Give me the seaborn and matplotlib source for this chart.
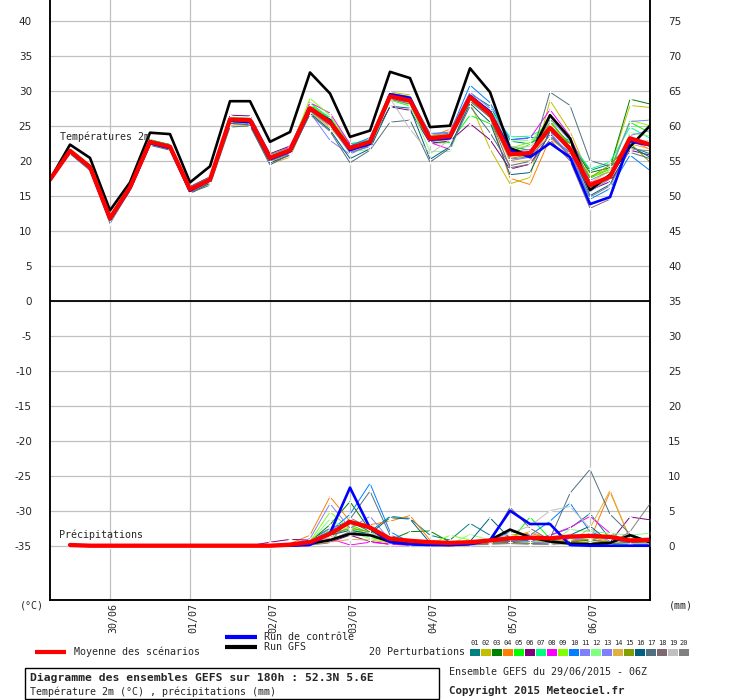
import matplotlib
matplotlib.use("Agg")
import matplotlib.pyplot as plt
import matplotlib.transforms as mtrans
from matplotlib.patches import Rectangle
from matplotlib.lines import Line2D
import pandas as pd
import seaborn as sns

# ---------------- data ----------------
hours = [6 * i for i in range(31)]          # 29/06 06Z .. 06/07 18Z
precip_hours = hours[1:]
date_hours = [18, 42, 66, 90, 114, 138, 162]
date_labels = ["30/06", "01/07", "02/07", "03/07", "04/07", "05/07", "06/07"]
left_ticks = list(range(-35, 45, 5))
right_ticks = list(range(0, 80, 5))

temp_mean = [17.3, 21.4, 19.1, 11.8, 16.2, 22.7, 22.0, 15.9, 17.3, 25.9, 25.8, 20.4, 21.5, 27.5, 25.5, 21.8,
             22.7, 29.2, 28.6, 23.2, 23.5, 29.1, 26.7, 20.9, 21.1, 24.7, 21.7, 16.5, 17.7, 23.2, 22.3]
temp_gfs = [17.3, 22.3, 20.4, 12.9, 16.9, 24.0, 23.8, 16.9, 19.2, 28.5, 28.5, 22.7, 24.1, 32.6, 29.6, 23.4,
            24.3, 32.7, 31.8, 24.8, 25.0, 33.2, 29.8, 21.8, 20.7, 26.5, 23.2, 15.8, 18.0, 22.0, 25.0]
temp_ctrl = [17.3, 21.3, 19.0, 11.6, 16.0, 22.5, 21.8, 15.7, 17.2, 25.7, 25.5, 20.2, 21.3, 27.3, 25.8, 21.5,
             22.4, 29.5, 29.0, 23.0, 23.2, 29.3, 27.0, 21.5, 20.5, 22.5, 20.5, 13.8, 14.8, 22.8, 22.2]

t01 = [17.3, 21.6, 19.3, 11.9, 16.4, 22.9, 22.2, 16.0, 17.6, 26.2, 26.0, 20.8, 21.9, 27.9, 25.9, 21.6, 22.9, 29.5, 28.9, 23.6, 23.9, 29.6, 27.8, 22.8, 22.4, 24.3, 22.8, 18.6, 19.5, 22.0, 21.0]
t02 = [17.3, 21.3, 19.0, 11.7, 16.0, 22.6, 21.8, 15.7, 17.0, 25.5, 25.4, 19.9, 21.0, 27.9, 25.8, 22.0, 23.0, 29.8, 29.4, 22.9, 23.0, 28.3, 21.7, 16.7, 17.6, 28.6, 24.2, 17.6, 19.0, 27.9, 27.6]
t03 = [17.3, 21.5, 19.2, 11.9, 16.3, 22.8, 22.1, 16.0, 17.4, 26.1, 25.9, 20.6, 21.6, 27.6, 25.2, 21.5, 22.5, 29.0, 28.4, 23.0, 23.8, 29.4, 27.0, 22.0, 21.5, 24.0, 22.5, 18.3, 19.0, 28.8, 28.1]
t04 = [17.3, 21.2, 18.9, 11.6, 16.0, 22.4, 21.7, 15.6, 16.9, 25.3, 25.1, 19.7, 20.8, 27.0, 25.0, 21.4, 22.6, 29.3, 28.8, 23.4, 24.5, 29.0, 26.2, 17.5, 16.6, 23.2, 21.0, 16.0, 17.4, 23.0, 21.6]
t05 = [17.3, 21.5, 19.3, 12.0, 16.4, 23.0, 22.3, 16.1, 17.5, 26.0, 26.0, 20.8, 21.9, 28.3, 26.0, 22.4, 22.9, 28.7, 27.8, 22.5, 22.6, 26.5, 25.3, 21.2, 22.3, 25.8, 22.0, 17.5, 18.8, 25.5, 24.0]
t06 = [17.3, 21.4, 19.1, 11.8, 16.2, 22.9, 22.3, 16.3, 17.7, 26.5, 26.4, 21.0, 22.1, 27.3, 25.3, 21.7, 22.5, 27.7, 27.2, 22.5, 22.8, 25.3, 23.0, 18.8, 19.5, 23.8, 20.6, 15.8, 17.0, 21.5, 20.8]
t07 = [17.3, 21.7, 19.4, 12.1, 16.5, 23.0, 22.3, 16.2, 17.6, 26.1, 26.0, 20.6, 21.7, 28.0, 26.2, 22.4, 23.0, 29.3, 28.7, 23.5, 23.8, 29.0, 27.3, 23.4, 23.5, 25.0, 22.6, 18.8, 19.8, 24.8, 23.2]
t08 = [17.3, 21.4, 19.1, 11.8, 16.3, 22.6, 21.9, 15.9, 17.3, 26.0, 25.9, 20.7, 21.9, 28.3, 26.8, 22.4, 22.0, 28.9, 28.3, 22.6, 21.6, 28.8, 27.0, 23.0, 23.2, 27.3, 23.5, 17.0, 17.4, 22.6, 22.1]
t09 = [17.3, 21.3, 19.0, 11.7, 16.1, 22.8, 22.1, 15.8, 17.1, 25.8, 25.7, 20.3, 21.4, 28.9, 26.5, 21.9, 22.4, 29.4, 28.2, 23.1, 23.3, 28.4, 26.4, 21.8, 22.6, 26.0, 21.5, 17.8, 18.3, 25.8, 25.0]
t10 = [17.3, 21.5, 19.2, 11.9, 16.2, 22.7, 22.0, 15.6, 17.2, 25.8, 25.6, 20.1, 21.3, 27.3, 25.7, 22.1, 23.3, 29.6, 29.1, 23.9, 24.0, 30.8, 28.3, 23.0, 23.3, 23.4, 21.2, 14.5, 16.0, 20.8, 18.6]
t11 = [17.3, 21.3, 19.0, 11.6, 16.0, 22.5, 21.8, 15.7, 17.0, 25.6, 25.5, 20.0, 21.2, 26.9, 22.9, 20.9, 22.3, 29.1, 28.9, 23.8, 24.1, 29.8, 27.5, 20.0, 20.5, 26.0, 22.9, 17.2, 18.5, 25.6, 25.8]
t12 = [17.3, 21.6, 19.3, 12.0, 16.4, 22.9, 22.2, 16.0, 17.5, 26.2, 26.1, 20.7, 21.8, 27.8, 25.6, 21.3, 21.6, 28.7, 28.0, 21.3, 21.3, 28.7, 27.0, 22.8, 22.9, 24.7, 22.0, 16.2, 17.3, 24.0, 23.5]
t13 = [17.3, 21.2, 18.9, 11.7, 16.1, 22.5, 21.8, 15.8, 17.1, 25.6, 25.4, 20.0, 21.0, 27.2, 25.0, 21.2, 22.0, 29.0, 28.6, 23.1, 23.4, 29.2, 26.9, 21.3, 21.6, 24.1, 20.7, 15.6, 17.4, 23.6, 24.3]
t14 = [17.3, 21.1, 18.8, 11.5, 15.9, 22.3, 21.6, 15.5, 16.7, 25.0, 24.9, 19.5, 20.5, 27.0, 24.7, 21.6, 22.7, 29.6, 29.2, 23.6, 23.8, 29.3, 26.6, 19.8, 20.0, 24.5, 21.8, 16.8, 18.6, 22.4, 21.7]
t15 = [17.3, 21.4, 19.1, 11.8, 16.2, 22.7, 22.1, 16.0, 17.3, 26.0, 25.8, 20.5, 21.5, 27.5, 25.4, 21.5, 22.6, 29.4, 28.8, 23.3, 23.6, 28.9, 26.1, 20.3, 20.9, 25.5, 22.4, 17.6, 19.4, 22.5, 19.8]
t16 = [17.3, 21.3, 19.0, 11.5, 15.8, 22.4, 21.7, 15.3, 16.8, 25.3, 25.2, 19.7, 20.8, 26.8, 24.4, 20.3, 21.7, 27.8, 27.5, 20.2, 22.0, 28.2, 25.5, 18.0, 18.3, 24.2, 22.0, 15.0, 16.6, 22.1, 20.5]
t17 = [17.3, 21.0, 18.6, 11.3, 15.7, 22.2, 21.5, 15.4, 16.5, 24.8, 25.0, 19.4, 20.9, 26.6, 24.2, 19.7, 21.5, 25.5, 25.8, 19.8, 21.8, 27.8, 24.0, 19.3, 19.9, 29.8, 27.9, 20.0, 19.2, 21.2, 20.3]
t18 = [17.3, 21.2, 18.9, 11.6, 16.0, 22.5, 21.9, 15.9, 17.2, 25.7, 25.6, 20.2, 21.2, 27.2, 25.3, 21.6, 22.2, 28.8, 28.1, 22.7, 23.1, 28.5, 26.2, 19.0, 19.5, 23.0, 20.0, 13.2, 14.5, 22.7, 22.5]
t19 = [17.3, 21.5, 19.2, 11.9, 16.3, 22.8, 22.0, 15.9, 17.4, 26.0, 25.9, 20.3, 21.6, 27.4, 25.6, 21.8, 22.5, 28.9, 24.5, 21.0, 23.0, 29.0, 27.2, 21.9, 22.0, 24.4, 21.3, 16.5, 17.8, 22.5, 22.9]
t20 = [17.3, 21.1, 18.7, 11.0, 15.8, 22.4, 21.7, 15.6, 17.0, 25.6, 25.4, 20.0, 21.1, 27.1, 25.1, 21.1, 22.1, 28.9, 28.4, 22.9, 23.1, 28.6, 26.3, 20.2, 20.6, 23.6, 20.6, 14.8, 16.4, 21.7, 21.4]

precip_mean = [0.1, 0, 0, 0, 0, 0, 0, 0, 0, 0, 0, 0.15, 0.5, 1.7, 3.4, 2.6, 1.0, 0.7, 0.5, 0.4,
               0.5, 0.75, 1.05, 1.15, 1.05, 1.3, 1.4, 1.25, 0.75, 0.85]
precip_ctrl = [0.1, 0, 0, 0, 0, 0, 0, 0, 0, 0, 0, 0, 0.1, 1.8, 8.3, 2.5, 0.5, 0.2, 0.1, 0.1,
               0.2, 0.8, 5.0, 3.1, 3.1, 0.1, 0, 0, 0, 0]
precip_gfs = [0, 0, 0, 0, 0, 0, 0, 0, 0, 0, 0, 0, 0.3, 0.8, 1.7, 1.5, 0.6, 0.3, 0.2, 0.1,
              0.3, 0.8, 2.3, 1.2, 0.6, 0.3, 0.2, 0.4, 1.5, 0.5]

p01 = [0, 0, 0, 0, 0, 0, 0, 0, 0, 0, 0, 0.2, 0.8, 2.5, 3.5, 2.0, 4.2, 3.9, 1.5, 0.8, 3.2, 1.5, 0.5, 0.8, 1.5, 2.5, 4.6, 1.0, 0.5, 0.3]
p02 = [0, 0, 0, 0, 0, 0, 0, 0, 0, 0, 0, 0, 0.3, 1.2, 2.8, 1.5, 0.3, 0.2, 0.1, 0.1, 0.3, 0.5, 0.8, 1.5, 0.5, 0.8, 1.2, 0.6, 0.3, 0.5]
p03 = [0, 0, 0, 0, 0, 0, 0, 0, 0, 0, 0, 0.1, 0.6, 3.0, 6.3, 2.2, 0.8, 2.0, 2.1, 0.5, 0.2, 0.3, 0.5, 0.8, 0.6, 0.3, 0.5, 0.4, 0.2, 0.2]
p04 = [0, 0, 0, 0, 0, 0, 0, 0, 0, 0, 0, 0.3, 1.5, 7.0, 3.5, 3.0, 3.5, 4.3, 0.8, 0.3, 0.2, 0.5, 1.5, 1.8, 1.0, 0.5, 0.8, 7.7, 1.0, 0.5]
p05 = [0, 0, 0, 0, 0, 0, 0, 0, 0, 0, 0, 0, 0.4, 2.2, 3.0, 1.8, 0.3, 0.2, 0.1, 0.2, 0.5, 0.8, 0.5, 4.1, 1.0, 0.5, 0.3, 0.2, 0.1, 0.3]
p06 = [0, 0, 0, 0, 0, 0, 0, 0, 0, 0, 0.5, 0.9, 0.8, 0.5, 1.5, 0.6, 0.2, 0.1, 0.1, 0.1, 0.2, 0.3, 0.5, 0.3, 0.4, 0.6, 0.8, 0.5, 4.1, 3.7]
p07 = [0, 0, 0, 0, 0, 0, 0, 0, 0, 0, 0, 0.1, 0.5, 1.8, 2.4, 1.6, 0.5, 0.3, 0.2, 0.3, 0.4, 0.6, 1.0, 1.2, 0.8, 0.5, 0.3, 0.2, 0.2, 0.4]
p08 = [0, 0, 0, 0, 0, 0, 0, 0, 0, 0, 0, 0, 0.2, 1.0, 0.1, 0.5, 0.2, 0.1, 0.1, 0.2, 0.3, 0.5, 0.8, 0.6, 1.5, 2.6, 4.2, 1.8, 0.5, 0.3]
p09 = [0, 0, 0, 0, 0, 0, 0, 0, 0, 0, 0, 0.1, 0.6, 4.8, 2.5, 1.2, 0.5, 0.3, 0.2, 1.5, 0.8, 0.5, 0.6, 0.9, 0.5, 0.4, 0.6, 1.8, 0.3, 0.2]
p10 = [0, 0, 0, 0, 0, 0, 0, 0, 0, 0, 0, 0.2, 0.5, 2.0, 4.5, 8.9, 2.0, 0.5, 0.3, 0.2, 0.4, 0.6, 2.0, 1.5, 3.5, 6.1, 2.0, 1.0, 0.3, 0.2]
p11 = [0, 0, 0, 0, 0, 0, 0, 0, 0, 0, 0, 0.2, 1.0, 6.0, 2.5, 4.2, 0.8, 0.4, 0.2, 0.2, 0.3, 0.5, 0.7, 0.6, 0.4, 0.5, 1.8, 0.6, 0.3, 0.2]
p12 = [0, 0, 0, 0, 0, 0, 0, 0, 0, 0, 0, 0, 0.5, 3.8, 2.0, 1.0, 0.6, 0.3, 0.2, 0.2, 1.6, 0.8, 0.6, 0.5, 0.4, 2.3, 2.0, 1.8, 1.5, 1.8]
p13 = [0, 0, 0, 0, 0, 0, 0, 0, 0, 0, 0, 0.1, 0.4, 2.5, 3.2, 2.8, 0.7, 0.3, 0.2, 0.3, 0.3, 0.4, 0.6, 0.5, 0.4, 1.0, 0.8, 1.5, 0.4, 0.3]
p14 = [0, 0, 0, 0, 0, 0, 0, 0, 0, 0, 0, 0, 0.2, 0.5, 0.9, 0.8, 0.4, 0.2, 0.1, 0.1, 0.2, 0.8, 1.2, 2.0, 1.0, 0.5, 2.5, 7.9, 1.0, 0.5]
p15 = [0, 0, 0, 0, 0, 0, 0, 0, 0, 0, 0, 0.1, 0.3, 1.5, 2.5, 2.0, 0.6, 0.3, 0.2, 0.2, 0.2, 0.3, 0.4, 0.3, 0.2, 0.6, 0.9, 0.5, 0.3, 0.7]
p16 = [0, 0, 0, 0, 0, 0, 0, 0, 0, 0, 0, 0.1, 0.4, 1.5, 2.2, 1.7, 4.0, 3.8, 0.4, 0.3, 0.6, 4.0, 1.0, 0.8, 1.2, 1.5, 2.8, 0.5, 0.4, 0.3]
p17 = [0, 0, 0, 0, 0, 0, 0, 0, 0, 0, 0, 0.1, 0.3, 1.5, 3.8, 7.8, 1.5, 0.6, 0.3, 0.2, 0.3, 0.5, 0.6, 0.8, 1.0, 7.5, 10.9, 4.5, 1.7, 0.5]
p18 = [0, 0, 0, 0, 0, 0, 0, 0, 0, 0, 0, 0, 0.2, 0.8, 2.0, 1.5, 0.5, 0.3, 0.2, 0.1, 0.2, 0.4, 5.5, 2.5, 0.8, 0.4, 0.3, 0.2, 0.8, 0.5]
p19 = [0, 0, 0, 0, 0, 0, 0, 0, 0, 0, 0, 0.1, 0.3, 1.2, 1.5, 1.8, 1.2, 0.8, 0.6, 0.4, 0.3, 0.5, 1.8, 2.8, 5.0, 5.6, 2.5, 0.5, 0.3, 0.3]
p20 = [0, 0, 0, 0, 0, 0, 0, 0, 0, 0, 0, 0, 0.1, 0.4, 4.0, 2.5, 0.6, 0.3, 0.1, 0.1, 0.1, 0.2, 0.3, 0.2, 0.2, 0.3, 0.5, 0.3, 2.0, 6.0]

member_ids = ["01", "02", "03", "04", "05", "06", "07", "08", "09", "10",
              "11", "12", "13", "14", "15", "16", "17", "18", "19", "20"]
member_colors = ["#008080", "#c0c000", "#008000", "#ff8000", "#00ff00", "#800080", "#00ff80", "#ff00ff",
                 "#80ff00", "#0080ff", "#8080ff", "#80ff80", "#7f7fff", "#e0b040", "#80a000", "#006080",
                 "#507080", "#806870", "#c0c0c0", "#808080"]
temp_members = [t01, t02, t03, t04, t05, t06, t07, t08, t09, t10,
                t11, t12, t13, t14, t15, t16, t17, t18, t19, t20]
precip_members = [p01, p02, p03, p04, p05, p06, p07, p08, p09, p10,
                  p11, p12, p13, p14, p15, p16, p17, p18, p19, p20]

# ---------------- tables ----------------
df_t = pd.DataFrame([(h, v, m) for m, vals in zip(member_ids, temp_members) for h, v in zip(hours, vals)],
                    columns=["hour", "value", "member"])
df_p = pd.DataFrame([(h, v, m) for m, vals in zip(member_ids, precip_members) for h, v in zip(precip_hours, vals)],
                    columns=["hour", "value", "member"])
palette = dict(zip(member_ids, member_colors))

# ---------------- style ----------------
sns.set_style("white")
plt.rcParams["font.family"] = ["DejaVu Sans Mono", "DejaVu Sans"]
plt.rcParams["axes.unicode_minus"] = False
MONO = "DejaVu Sans Mono"

W, H = 740, 700
fig = plt.figure(figsize=(W / 100, H / 100), dpi=100)
fig.patch.set_facecolor("white")


def fx(x):
    return x / W


def fy(y):
    return 1 - y / H


ax = fig.add_axes([fx(50), fy(600), 600 / W, 600 / H])
y_top = 40 + 20.7 / 7
y_bot = 40 - 579.3 / 7
ax.set_xlim(0, 180)
ax.set_ylim(y_bot, y_top)
ax.set_facecolor("white")

grid_c = "#c0c0c0"
for h in date_hours:
    ax.axvline(h, color=grid_c, lw=0.9, zorder=0)
for t in left_ticks:
    ax.axhline(t, color=grid_c, lw=0.9, zorder=0)
ax.axhline(0, color="black", lw=1.3, zorder=1)

# temperature members
sns.lineplot(data=df_t, x="hour", y="value", hue="member", palette=palette, estimator=None, sort=False,
             lw=0.7, marker="+", markersize=3, markeredgewidth=0.6, legend=False, ax=ax)
sns.lineplot(x=hours, y=temp_gfs, color="black", lw=1.9, estimator=None, ax=ax)
sns.lineplot(x=hours, y=temp_ctrl, color="#0000ff", lw=1.9, estimator=None, ax=ax)
sns.lineplot(x=hours, y=temp_mean, color="#ff0000", lw=3.1, estimator=None, ax=ax)

# precipitation on the right-hand scale
ax2 = ax.twinx()
ax2.set_ylim(y_bot + 35, y_top + 35)
sns.lineplot(data=df_p, x="hour", y="value", hue="member", palette=palette, estimator=None, sort=False,
             lw=0.7, marker="+", markersize=3, markeredgewidth=0.6, legend=False, ax=ax2)
sns.lineplot(x=precip_hours, y=precip_gfs, color="black", lw=1.9, estimator=None, ax=ax2)
sns.lineplot(x=precip_hours, y=precip_ctrl, color="#0000ff", lw=1.9, estimator=None, ax=ax2)
sns.lineplot(x=precip_hours, y=precip_mean, color="#ff0000", lw=3.1, estimator=None, ax=ax2)

# axes cosmetics
for a in (ax, ax2):
    a.set_xlabel("")
    a.set_ylabel("")
    a.spines["top"].set_visible(False)
    for s in ("left", "right", "bottom"):
        a.spines[s].set_color("black")
        a.spines[s].set_linewidth(1.1)
    a.grid(False)

ax.set_yticks(left_ticks)
ax.set_yticklabels([str(t) for t in left_ticks], fontsize=7.5, family="DejaVu Sans")
ax.tick_params(axis="y", length=0, pad=13)
ax2.set_yticks(right_ticks)
ax2.set_yticklabels([str(t) for t in right_ticks], fontsize=7.5, family="DejaVu Sans")
ax2.tick_params(axis="y", length=0, pad=13)
ax2.set_xlim(0, 180)

ax.set_xticks(date_hours)
ax.set_xticklabels(date_labels, rotation=90, fontsize=7.2, family=MONO, va="top", ha="center")
ax.tick_params(axis="x", length=0, pad=2)
off = mtrans.ScaledTranslation(3 / 100, 0, fig.dpi_scale_trans)
for lab in ax.get_xticklabels():
    lab.set_transform(lab.get_transform() + off)

ax.text(3.0, 23.4, "Températures 2m", fontsize=7.2, family=MONO, ha="left", va="center", zorder=10)
ax.text(2.7, -33.5, "Précipitations", fontsize=7.2, family=MONO, ha="left", va="center", zorder=10)

# ---------------- footer / legend ----------------
fig.text(fx(20), fy(606), "(°C)", fontsize=7.2, family=MONO, ha="left", va="center")
fig.text(fx(669), fy(606), "(mm)", fontsize=7.2, family=MONO, ha="left", va="center")

fig.add_artist(Line2D([fx(35), fx(66)], [fy(652), fy(652)], color="#ff0000", lw=3, solid_capstyle="butt"))
fig.text(fx(74), fy(652), "Moyenne des scénarios", fontsize=7.2, family=MONO, ha="left", va="center")
fig.add_artist(Line2D([fx(225), fx(257)], [fy(636.5), fy(636.5)], color="#0000ff", lw=3, solid_capstyle="butt"))
fig.text(fx(264), fy(636.5), "Run de contrôle", fontsize=7.2, family=MONO, ha="left", va="center")
fig.add_artist(Line2D([fx(225), fx(257)], [fy(646.5), fy(646.5)], color="black", lw=3, solid_capstyle="butt"))
fig.text(fx(264), fy(646.5), "Run GFS", fontsize=7.2, family=MONO, ha="left", va="center")
fig.text(fx(369), fy(652), "20 Perturbations", fontsize=7.2, family=MONO, ha="left", va="center")

for i, (mid, col) in enumerate(zip(member_ids, member_colors)):
    x0 = 470 + 11 * i
    fig.add_artist(Rectangle((fx(x0), fy(655.5)), 10 / W, 6.5 / H, facecolor=col, edgecolor="none",
                             transform=fig.transFigure))
    fig.text(fx(x0 + 5), fy(643), mid, fontsize=5, family=MONO, ha="center", va="center")

fig.add_artist(Rectangle((fx(25), fy(699.3)), (439 - 25) / W, (699.3 - 667.7) / H, fill=False,
                         edgecolor="black", lw=1, transform=fig.transFigure))
fig.text(fx(30), fy(677.5), "Diagramme des ensembles GEFS sur 180h : 52.3N 5.6E", fontsize=8.2,
         family=MONO, weight="bold", ha="left", va="center")
fig.text(fx(30), fy(691.5), "Température 2m (°C) , précipitations (mm)", fontsize=7.2,
         family=MONO, ha="left", va="center")
fig.text(fx(449), fy(672), "Ensemble GEFS du 29/06/2015 - 06Z", fontsize=7.2, family=MONO,
         ha="left", va="center")
fig.text(fx(449), fy(691), "Copyright 2015 Meteociel.fr", fontsize=7.8, family=MONO, weight="bold",
         ha="left", va="center")

fig.savefig("out.png", dpi=100)
